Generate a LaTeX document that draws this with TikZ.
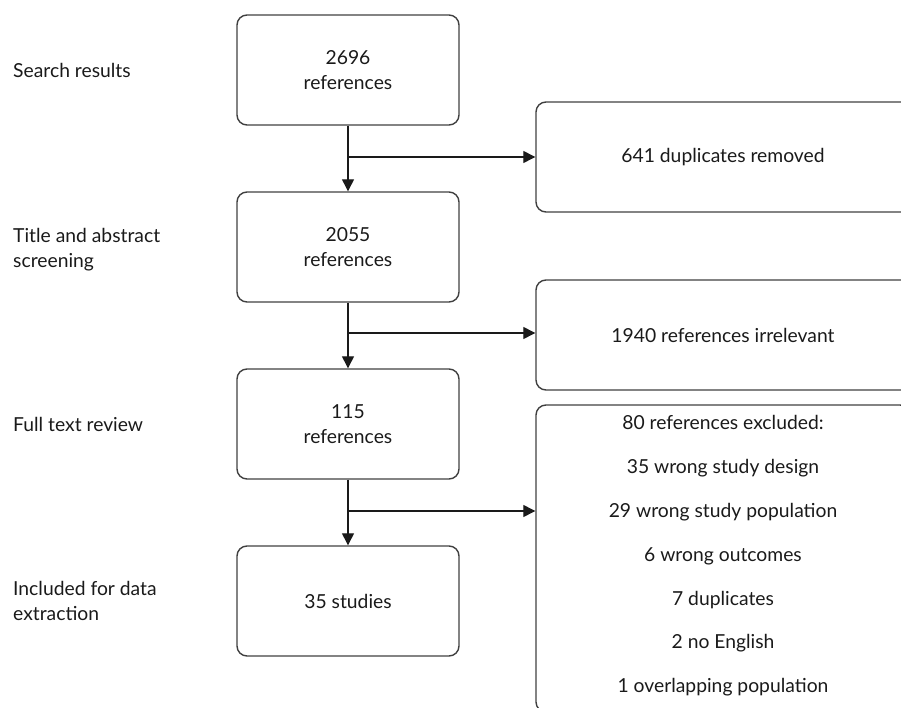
\documentclass[tikz,border=0pt]{standalone}
\usepackage{fontspec}
\setmainfont{Lato}
\usetikzlibrary{arrows.meta}
\definecolor{boxline}{HTML}{404040}
\definecolor{txt}{HTML}{1A1A1A}
\begin{document}
\begin{tikzpicture}[x=1pt,y=1pt,
  font=\fontsize{19.3}{25}\selectfont, text=txt,
  mainbox/.style={draw=boxline, line width=1.4pt, rounded corners=10pt, minimum width=222pt, minimum height=110pt, align=center, inner sep=0pt},
  sidebox/.style={draw=boxline, line width=1.4pt, rounded corners=10pt, inner sep=0pt},
  stagelabel/.style={anchor=west, align=left, inner sep=0pt},
  flow/.style={draw=txt, line width=1.3pt, -{Triangle[length=12pt,width=12pt]}}]
\useasboundingbox (0,0) rectangle (901,-708);
\begin{scope}
\clip (0,0) rectangle (901,-708);
% main column
\node[mainbox] (b1) at (348,-70) {2696\\references};
\node[mainbox] (b2) at (348,-247) {2055\\references};
\node[mainbox] (b3) at (348,-424) {115\\references};
\node[mainbox] (b4) at (348,-601) {35 studies};
% side boxes
\node[sidebox, minimum width=384pt, minimum height=110pt] (r1) at (728,-157) {};
\node[sidebox, minimum width=384pt, minimum height=110pt] (r2) at (728,-335) {};
\node[sidebox, minimum width=374pt, minimum height=307pt] (r3) at (723,-558.5) {};
\node (t1) at (723,-157) {641 duplicates removed};
\node (t2) at (723,-335) {1940 references irrelevant};
\node[align=center, font=\fontsize{19.3}{43.8}\selectfont] (t3) at (723,-556) {80 references excluded:\\35 wrong study design\\29 wrong study population\\6 wrong outcomes\\7 duplicates\\2 no English\\1 overlapping population};
\end{scope}
% stage labels
\node[stagelabel] (l1) at (13,-70) {Search results};
\node[stagelabel] (l2) at (13,-250) {Title and abstract\\screening};
\node[stagelabel] (l3) at (13,-424) {Full text review};
\node[stagelabel] (l4) at (13,-601) {Included for data\\extraction};
% connectors
\coordinate (j1) at (348,-157);
\coordinate (j2) at (348,-333);
\coordinate (j3) at (348,-511);
\draw[flow] (b1.south) -- (b2.north);
\draw[flow] (b2.south) -- (b3.north);
\draw[flow] (b3.south) -- (b4.north);
\draw[flow] (j1) -- (j1 -| r1.west);
\draw[flow] (j2) -- (j2 -| r2.west);
\draw[flow] (j3) -- (j3 -| r3.west);
\end{tikzpicture}
\end{document}
